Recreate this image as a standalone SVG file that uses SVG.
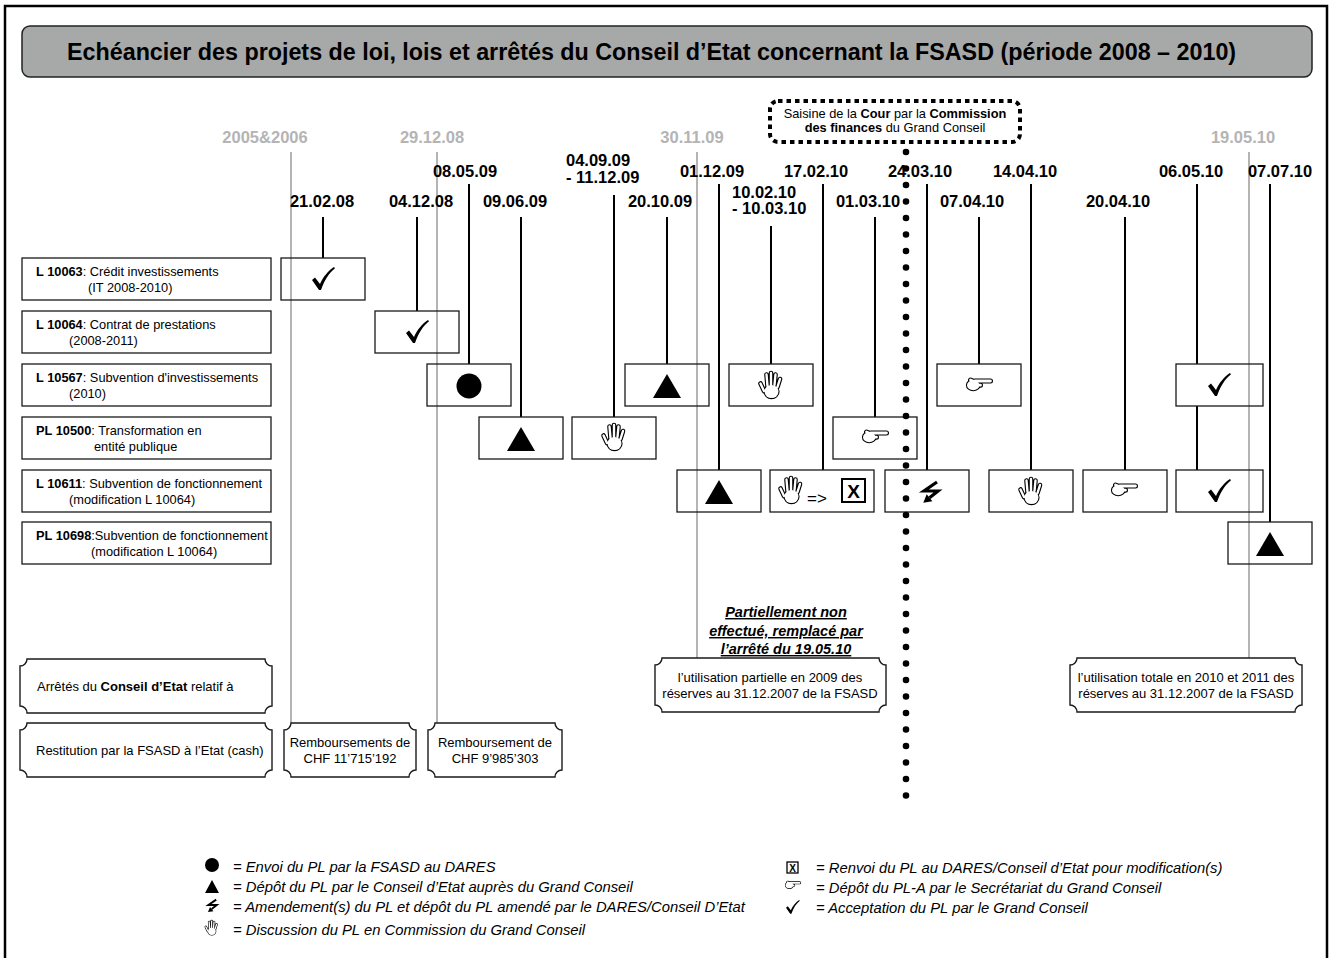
<svg xmlns="http://www.w3.org/2000/svg" width="1332" height="958" viewBox="0 0 1332 958">
<style>
text{font-family:"Liberation Sans",Arial,Helvetica,sans-serif;fill:#000}
.dt{font-size:16.5px;font-weight:bold}
.gd{font-size:16.5px;font-weight:bold;fill:#b4b4b4}
.lb{font-size:12.8px}
.pq{font-size:13px}
.lg{font-size:14.8px;font-style:italic}
.bx{fill:none;stroke:#1a1a1a;stroke-width:1.3}
.pl{fill:#fff;stroke:#1a1a1a;stroke-width:1.4}
.ln{stroke:#000;stroke-width:2}
.gl{stroke:#b4b4b2;stroke-width:2}
</style>
<defs>
<g id="hand">
<g stroke="#000" stroke-linecap="round" fill="#000">
<path d="M5,20 L1.5,12.5 M8.5,15 L7.5,3.5 M12,14 L12,2 M15.5,14 L16.5,3.5 M18.5,16 L21,8" stroke-width="4.6" fill="none"/>
<ellipse cx="12.5" cy="20.5" rx="7" ry="6.6" stroke-width="2.2"/>
</g>
<g stroke="#fff" stroke-linecap="round" fill="#fff">
<path d="M5,20 L1.5,12.5 M8.5,15 L7.5,3.5 M12,14 L12,2 M15.5,14 L16.5,3.5 M18.5,16 L21,8" stroke-width="2.4" fill="none"/>
<ellipse cx="12.5" cy="20.5" rx="7" ry="6.6" stroke="none"/>
</g>
</g>
<g id="point">
<g stroke="#000" stroke-linecap="round" fill="#000">
<path d="M9,3 L24.5,3 M10,7.2 L14.5,7.2 M4.5,2 L10.5,4.5" stroke-width="5" fill="none"/>
<ellipse cx="7.2" cy="7.2" rx="6.2" ry="5" stroke-width="2.2"/>
</g>
<g stroke="#fff" stroke-linecap="round" fill="#fff">
<path d="M9,3 L24.5,3 M10,7.2 L14.5,7.2 M4.5,2 L10.5,4.5" stroke-width="2.8" fill="none"/>
<ellipse cx="7.2" cy="7.2" rx="6.2" ry="5" stroke="none"/>
</g>
</g>
<g id="bolt">
<polyline points="17,1 4,10 18,10 9.5,16.8" fill="none" stroke="#000" stroke-width="3.2" stroke-linejoin="miter"/>
<polygon points="3.3,21.8 6.7,13.2 12.4,20.3" fill="#000"/>
</g>
<path id="chk" d="M0,13 L3,10.5 L8,17 C11,10 16,4 22,0 L23,1.2 C17,6 12.5,13 9,23 L7,23 Z" fill="#000"/>
</defs>

<rect x="5" y="6" width="1322" height="980" fill="none" stroke="#000" stroke-width="2.5"/>

<g id="title">
<rect x="22" y="26" width="1290" height="51" rx="8" fill="#a7a9a9" stroke="#222" stroke-width="1.5"/>
<text x="67" y="60" font-size="23.3" font-weight="bold">Echéancier des projets de loi, lois et arrêtés du Conseil d’Etat concernant la FSASD (période 2008 – 2010)</text>
</g>

<g id="saisine">
<rect x="770" y="101" width="250" height="41" rx="8" fill="none" stroke="#000" stroke-width="4" stroke-dasharray="4.5 4"/>
<text class="lb" x="895" y="118" text-anchor="middle">Saisine de la <tspan font-weight="bold">Cour</tspan> par la <tspan font-weight="bold">Commission</tspan></text>
<text class="lb" x="895" y="132" text-anchor="middle"><tspan font-weight="bold">des finances</tspan> du Grand Conseil</text>
</g>

<g id="gray-dates">
<line class="gl" x1="291" y1="152" x2="291" y2="723"/>
<line class="gl" x1="437" y1="152" x2="437" y2="723"/>
<line class="gl" x1="697" y1="152" x2="697" y2="658"/>
<line class="gl" x1="1249" y1="152" x2="1249" y2="658"/>
<text class="gd" x="265" y="143" text-anchor="middle">2005&amp;2006</text>
<text class="gd" x="432" y="143" text-anchor="middle">29.12.08</text>
<text class="gd" x="692" y="143" text-anchor="middle">30.11.09</text>
<text class="gd" x="1243" y="143" text-anchor="middle">19.05.10</text>
</g>

<g id="rows">
<g id="row-l10063"><rect class="bx" x="22" y="258" width="249" height="42"/>
<text class="lb" x="36" y="276"><tspan font-weight="bold">L 10063</tspan>: Crédit investissements</text>
<text class="lb" x="88" y="292">(IT 2008-2010)</text></g>
<g id="row-l10064"><rect class="bx" x="22" y="311" width="249" height="42"/>
<text class="lb" x="36" y="329"><tspan font-weight="bold">L 10064</tspan>: Contrat de prestations</text>
<text class="lb" x="69" y="345">(2008-2011)</text></g>
<g id="row-l10567"><rect class="bx" x="22" y="364" width="249" height="42"/>
<text class="lb" x="36" y="382"><tspan font-weight="bold">L 10567</tspan>: Subvention d'investissements</text>
<text class="lb" x="69" y="398">(2010)</text></g>
<g id="row-pl10500"><rect class="bx" x="22" y="417" width="249" height="42"/>
<text class="lb" x="36" y="435"><tspan font-weight="bold">PL 10500</tspan>: Transformation en</text>
<text class="lb" x="94" y="451">entité publique</text></g>
<g id="row-l10611"><rect class="bx" x="22" y="470" width="249" height="42"/>
<text class="lb" x="36" y="488"><tspan font-weight="bold">L 10611</tspan>: Subvention de fonctionnement</text>
<text class="lb" x="69" y="504">(modification L 10064)</text></g>
<g id="row-pl10698"><rect class="bx" x="22" y="522" width="249" height="42"/>
<text class="lb" x="36" y="540"><tspan font-weight="bold">PL 10698</tspan>:Subvention de fonctionnement</text>
<text class="lb" x="91" y="556">(modification L 10064)</text></g>
</g>

<g id="connectors">
<line class="ln" x1="323" y1="217" x2="323" y2="258"/>
<line class="ln" x1="417" y1="217" x2="417" y2="311"/>
<line class="ln" x1="469" y1="184" x2="469" y2="364"/>
<line class="ln" x1="521" y1="217" x2="521" y2="417"/>
<line class="ln" x1="614" y1="195" x2="614" y2="417"/>
<line class="ln" x1="667" y1="217" x2="667" y2="364"/>
<line class="ln" x1="719" y1="184" x2="719" y2="470"/>
<line class="ln" x1="771" y1="226" x2="771" y2="364"/>
<line class="ln" x1="823" y1="184" x2="823" y2="470"/>
<line class="ln" x1="875" y1="217" x2="875" y2="417"/>
<line class="ln" x1="927" y1="184" x2="927" y2="470"/>
<line class="ln" x1="979" y1="217" x2="979" y2="364"/>
<line class="ln" x1="1031" y1="184" x2="1031" y2="470"/>
<line class="ln" x1="1125" y1="217" x2="1125" y2="470"/>
<line class="ln" x1="1197" y1="184" x2="1197" y2="364"/>
<line class="ln" x1="1197" y1="406" x2="1197" y2="470"/>
<line class="ln" x1="1270" y1="184" x2="1270" y2="522"/>
</g>

<g id="dates">
<text class="dt" x="465" y="177" text-anchor="middle">08.05.09</text>
<text class="dt" x="712" y="177" text-anchor="middle">01.12.09</text>
<text class="dt" x="816" y="177" text-anchor="middle">17.02.10</text>
<text class="dt" x="920" y="177" text-anchor="middle">24.03.10</text>
<text class="dt" x="1025" y="177" text-anchor="middle">14.04.10</text>
<text class="dt" x="1191" y="177" text-anchor="middle">06.05.10</text>
<text class="dt" x="1280" y="177" text-anchor="middle">07.07.10</text>
<text class="dt" x="322" y="207" text-anchor="middle">21.02.08</text>
<text class="dt" x="421" y="207" text-anchor="middle">04.12.08</text>
<text class="dt" x="515" y="207" text-anchor="middle">09.06.09</text>
<text class="dt" x="660" y="207" text-anchor="middle">20.10.09</text>
<text class="dt" x="868" y="207" text-anchor="middle">01.03.10</text>
<text class="dt" x="972" y="207" text-anchor="middle">07.04.10</text>
<text class="dt" x="1118" y="207" text-anchor="middle">20.04.10</text>
<text class="dt" x="566" y="166">04.09.09</text>
<text class="dt" x="566" y="183">- 11.12.09</text>
<text class="dt" x="732" y="198">10.02.10</text>
<text class="dt" x="732" y="214">- 10.03.10</text>
</g>

<g id="ev-210208"><rect class="bx" x="281" y="258" width="84" height="42"/><use href="#chk" transform="translate(312,267)"/></g>
<g id="ev-041208"><rect class="bx" x="375" y="311" width="84" height="42"/><use href="#chk" transform="translate(406,320)"/></g>
<g id="ev-080509"><rect class="bx" x="427" y="364" width="84" height="42"/><circle cx="469" cy="386" r="12.5" fill="#000"/></g>
<g id="ev-090609"><rect class="bx" x="479" y="417" width="84" height="42"/><polygon points="507,451 535,451 521,427" fill="#000"/></g>
<g id="ev-040909"><rect class="bx" x="572" y="417" width="84" height="42"/><use href="#hand" transform="translate(602,423)"/></g>
<g id="ev-201009"><rect class="bx" x="625" y="364" width="84" height="42"/><polygon points="653,398 681,398 667,374" fill="#000"/></g>
<g id="ev-011209"><rect class="bx" x="677" y="470" width="84" height="42"/><polygon points="705,504 733,504 719,480" fill="#000"/></g>
<g id="ev-100210"><rect class="bx" x="729" y="364" width="84" height="42"/><use href="#hand" transform="translate(759,371)"/></g>
<g id="ev-170210"><rect class="bx" x="770" y="470" width="104" height="42"/><use href="#hand" transform="translate(779,476)"/>
<text x="807" y="504" font-size="17">=&gt;</text>
<rect x="842" y="479" width="23" height="23" fill="none" stroke="#000" stroke-width="2"/>
<text x="853.5" y="498" font-size="19" font-weight="bold" text-anchor="middle">X</text></g>
<g id="ev-010310"><rect class="bx" x="833" y="417" width="84" height="42"/><use href="#point" transform="translate(862,430)"/></g>
<g id="ev-240310"><rect class="bx" x="885" y="470" width="84" height="42"/><use href="#bolt" transform="translate(920,481)"/></g>
<g id="ev-070410"><rect class="bx" x="937" y="364" width="84" height="42"/><use href="#point" transform="translate(966,378)"/></g>
<g id="ev-140410"><rect class="bx" x="989" y="470" width="84" height="42"/><use href="#hand" transform="translate(1019,477)"/></g>
<g id="ev-200410"><rect class="bx" x="1083" y="470" width="84" height="42"/><use href="#point" transform="translate(1111,483)"/></g>
<g id="ev-060510"><rect class="bx" x="1176" y="364" width="87" height="42"/><use href="#chk" transform="translate(1208,373)"/>
<rect class="bx" x="1176" y="470" width="87" height="42"/><use href="#chk" transform="translate(1208,479)"/></g>
<g id="ev-070710"><rect class="bx" x="1228" y="522" width="84" height="42"/><polygon points="1256,556 1284,556 1270,532" fill="#000"/></g>

<g id="note-partiel">
<text x="786" y="617" font-size="14.5" font-weight="bold" font-style="italic" text-anchor="middle" text-decoration="underline">Partiellement non</text>
<text x="786" y="636" font-size="14.5" font-weight="bold" font-style="italic" text-anchor="middle" text-decoration="underline">effectué, remplacé par</text>
<text x="786" y="654" font-size="14.5" font-weight="bold" font-style="italic" text-anchor="middle" text-decoration="underline">l’arrêté du 19.05.10</text>
</g>

<g id="plaque-arretes">
<path class="pl" d="M27,659 H265 A7 7 0 0 0 272,666 V706 A7 7 0 0 0 265,713 H27 A7 7 0 0 0 20,706 V666 A7 7 0 0 0 27,659 Z"/>
<text class="pq" x="37" y="691">Arrêtés du <tspan font-weight="bold">Conseil d’Etat</tspan> relatif à</text>
</g>
<g id="plaque-restitution">
<path class="pl" d="M27,723 H265 A7 7 0 0 0 272,730 V770 A7 7 0 0 0 265,777 H27 A7 7 0 0 0 20,770 V730 A7 7 0 0 0 27,723 Z"/>
<text class="pq" x="36" y="755">Restitution par la FSASD à l’Etat (cash)</text>
</g>
<g id="plaque-remb1">
<path class="pl" d="M291,723 H409 A7 7 0 0 0 416,730 V770 A7 7 0 0 0 409,777 H291 A7 7 0 0 0 284,770 V730 A7 7 0 0 0 291,723 Z"/>
<text class="pq" x="350" y="747" text-anchor="middle">Remboursements de</text>
<text class="pq" x="350" y="763" text-anchor="middle">CHF 11’715’192</text>
</g>
<g id="plaque-remb2">
<path class="pl" d="M435,723 H555 A7 7 0 0 0 562,730 V770 A7 7 0 0 0 555,777 H435 A7 7 0 0 0 428,770 V730 A7 7 0 0 0 435,723 Z"/>
<text class="pq" x="495" y="747" text-anchor="middle">Remboursement de</text>
<text class="pq" x="495" y="763" text-anchor="middle">CHF 9’985’303</text>
</g>
<g id="plaque-partielle">
<path class="pl" d="M662,658 H879 A7 7 0 0 0 886,665 V705 A7 7 0 0 0 879,712 H662 A7 7 0 0 0 655,705 V665 A7 7 0 0 0 662,658 Z"/>
<text class="pq" x="770" y="682" text-anchor="middle">l’utilisation partielle en 2009 des</text>
<text class="pq" x="770" y="698" text-anchor="middle">réserves au 31.12.2007 de la FSASD</text>
</g>
<g id="plaque-totale">
<path class="pl" d="M1077,658 H1295 A7 7 0 0 0 1302,665 V705 A7 7 0 0 0 1295,712 H1077 A7 7 0 0 0 1070,705 V665 A7 7 0 0 0 1077,658 Z"/>
<text class="pq" x="1186" y="682" text-anchor="middle">l’utilisation totale en 2010 et 2011 des</text>
<text class="pq" x="1186" y="698" text-anchor="middle">réserves au 31.12.2007 de la FSASD</text>
</g>

<g id="cour-line">
<line x1="906" y1="152" x2="906" y2="797" stroke="#000" stroke-width="6.6" stroke-linecap="round" stroke-dasharray="0 16.5"/>
</g>

<g id="legend">
<circle cx="212" cy="865" r="7" fill="#000"/>
<text class="lg" x="233" y="872">= Envoi du PL par la FSASD au DARES</text>
<polygon points="205,893 219,893 212,880" fill="#000"/>
<text class="lg" x="233" y="892">= Dépôt du PL par le Conseil d’Etat auprès du Grand Conseil</text>
<use href="#bolt" transform="translate(206,899) scale(0.6)"/>
<text class="lg" x="233" y="912">= Amendement(s) du PL et dépôt du PL amendé par le DARES/Conseil D’Etat</text>
<use href="#hand" transform="translate(205,920) scale(0.55)"/>
<text class="lg" x="233" y="935">= Discussion du PL en Commission du Grand Conseil</text>
<rect x="787" y="862" width="11" height="11" fill="none" stroke="#000" stroke-width="1.3"/>
<text x="792.5" y="871.5" font-size="10" font-weight="bold" text-anchor="middle">X</text>
<text class="lg" x="816" y="873">= Renvoi du PL au DARES/Conseil d’Etat pour modification(s)</text>
<use href="#point" transform="translate(785,881) scale(0.6)"/>
<text class="lg" x="816" y="893">= Dépôt du PL-A par le Secrétariat du Grand Conseil</text>
<use href="#chk" transform="translate(786,900) scale(0.6)"/>
<text class="lg" x="816" y="913">= Acceptation du PL par le Grand Conseil</text>
</g>
</svg>
